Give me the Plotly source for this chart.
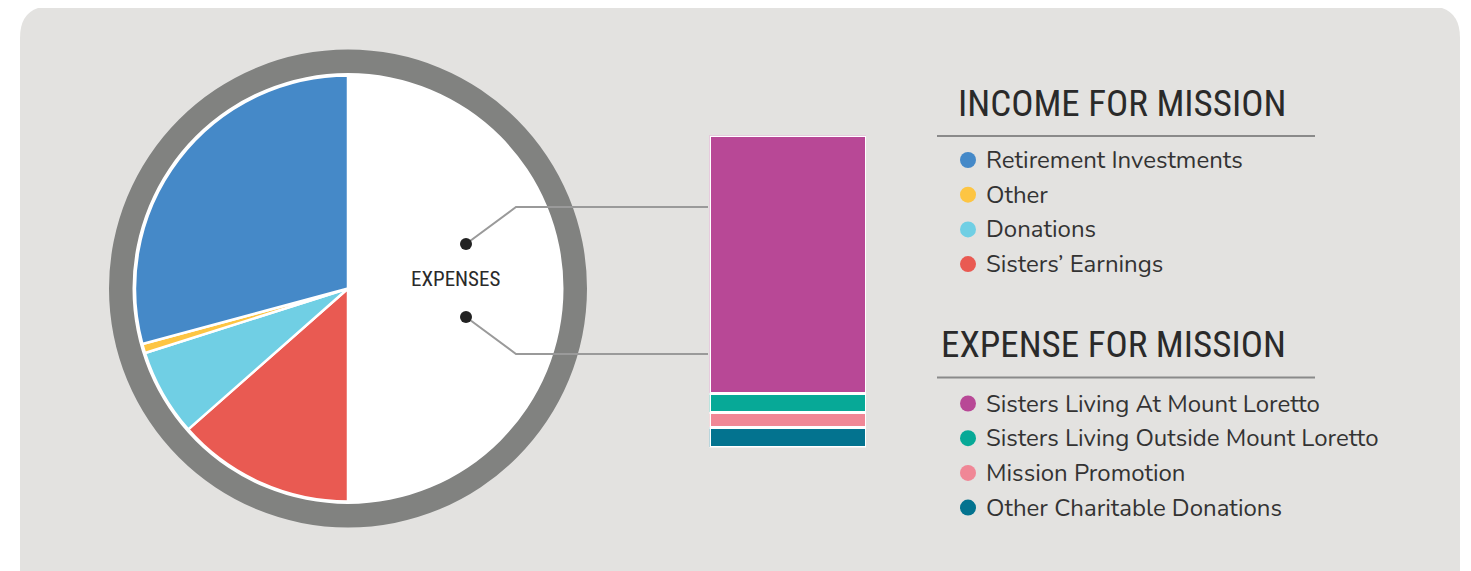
import plotly.graph_objects as go

W, H = 1471, 571
OFF = 8  # page body margin

# ---- data ----
pie_labels = ["Expenses", "Sisters’ Earnings", "Donations", "Other", "Retirement Investments"]
pie_values = [50.0, 13.5, 6.6, 0.7, 29.2]
pie_colors = ["#ffffff", "#e95a52", "#70cfe4", "#fdc543", "#4589c8"]

income_labels = ["Retirement Investments", "Other", "Donations", "Sisters’ Earnings"]
income_colors = ["#4589c8", "#fdc543", "#70cfe4", "#e95a52"]

expense_labels = ["Sisters Living At Mount Loretto", "Sisters Living Outside Mount Loretto",
                  "Mission Promotion", "Other Charitable Donations"]
expense_values = [82.7, 6.0, 5.0, 6.3]
expense_colors = ["#b84896", "#07a997", "#f08796", "#03738f"]


def px(x):
    return (x - OFF) / W


def py(y):
    return 1 - (y - OFF) / H


HEAD_FONT = "Roboto Condensed, Liberation Sans Narrow, DejaVu Sans Condensed, sans-serif"
BODY_FONT = "Nunito, Open Sans, Lato, sans-serif"

fig = go.Figure()

# pie
cx, cy, r = 348, 288.5, 213
fig.add_trace(go.Pie(
    labels=pie_labels, values=pie_values, sort=False, direction="clockwise",
    marker=dict(colors=pie_colors, line=dict(color="white", width=2.5)),
    textinfo="none", showlegend=False, hoverinfo="label+percent",
    domain=dict(x=[px(cx - r), px(cx + r)], y=[py(cy + r), py(cy - r)]),
))

# stacked bar (bottom to top)
for lab, val, col in list(zip(expense_labels, expense_values, expense_colors))[::-1]:
    fig.add_trace(go.Bar(
        x=[0], y=[val], name=lab, width=1, marker=dict(color=col, line=dict(color="white", width=2.6)),
        showlegend=False, hovertemplate=lab + ": %{y}%<extra></extra>",
    ))

shapes = []
# background panel with rounded top corners
rr = 32
x0, x1, y0, y1 = 20, 1460, 6, 600
path = (f"M {px(x0)} {py(y1)} L {px(x0)} {py(y0 + rr)} Q {px(x0)} {py(y0)} {px(x0 + rr)} {py(y0)} "
        f"L {px(x1 - rr)} {py(y0)} Q {px(x1)} {py(y0)} {px(x1)} {py(y0 + rr)} L {px(x1)} {py(y1)} Z")
shapes.append(dict(type="path", path=path, xref="paper", yref="paper", fillcolor="#e3e2e0",
                   line=dict(width=0), layer="below"))
# ring
R1, R2 = 239, 215.5
shapes.append(dict(type="circle", xref="paper", yref="paper", x0=px(cx - R1), x1=px(cx + R1),
                   y0=py(cy + R1), y1=py(cy - R1), fillcolor="#818280", line=dict(width=0), layer="below"))
shapes.append(dict(type="circle", xref="paper", yref="paper", x0=px(cx - R2), x1=px(cx + R2),
                   y0=py(cy + R2), y1=py(cy - R2), fillcolor="#ffffff", line=dict(width=0), layer="below"))
# connectors
for (dx, dy, kx, ky) in [(466, 244, 516, 207), (466, 317, 516, 354)]:
    shapes.append(dict(type="path", xref="paper", yref="paper",
                       path=f"M {px(dx)} {py(dy)} L {px(kx)} {py(ky)} L {px(708)} {py(ky)}",
                       line=dict(color="#9a9a9a", width=2)))
    shapes.append(dict(type="circle", xref="paper", yref="paper", x0=px(dx - 6), x1=px(dx + 6),
                       y0=py(dy + 6), y1=py(dy - 6), fillcolor="#222222", line=dict(width=0)))

annotations = [dict(text="EXPENSES", x=px(455), y=py(279), xref="paper", yref="paper",
                    xanchor="center", yanchor="middle",
                    showarrow=False, font=dict(family=HEAD_FONT, size=21, color="#2a2a2a"))]


def legend_block(title, title_y, line_y, labels, colors, y_start):
    annotations.append(dict(text=title, x=px(1288), y=py(title_y), xref="paper", yref="paper",
                            xanchor="right", yanchor="middle", showarrow=False,
                            font=dict(family=HEAD_FONT, size=37, color="#2a2a2a")))
    shapes.append(dict(type="line", xref="paper", yref="paper", x0=px(937), x1=px(1315),
                       y0=py(line_y), y1=py(line_y), line=dict(color="#8a8a8a", width=2)))
    for i, (lab, col) in enumerate(zip(labels, colors)):
        yy = y_start + i * 34.7
        shapes.append(dict(type="circle", xref="paper", yref="paper", x0=px(960), x1=px(976),
                           y0=py(yy + 8), y1=py(yy - 8), fillcolor=col, line=dict(width=0)))
        annotations.append(dict(text=lab, x=px(984), y=py(yy), xref="paper", yref="paper",
                                xanchor="left", yanchor="middle", showarrow=False,
                                font=dict(family=BODY_FONT, size=24, color="#333333")))


legend_block("INCOME FOR MISSION", 103, 136, income_labels, income_colors, 160)
legend_block("EXPENSE FOR MISSION", 344, 377.5, expense_labels, expense_colors, 403.5)

fig.update_layout(
    width=W, height=H, margin=dict(l=0, r=0, t=0, b=0),
    paper_bgcolor="white", plot_bgcolor="rgba(0,0,0,0)",
    barmode="stack", bargap=0,
    xaxis=dict(domain=[px(709.5), px(866)], range=[-0.5, 0.5], visible=False, fixedrange=True),
    yaxis=dict(domain=[py(447.5), py(135.5)], range=[0, 100], visible=False, fixedrange=True),
    shapes=shapes, annotations=annotations,
)

fig.write_html("out.html")
